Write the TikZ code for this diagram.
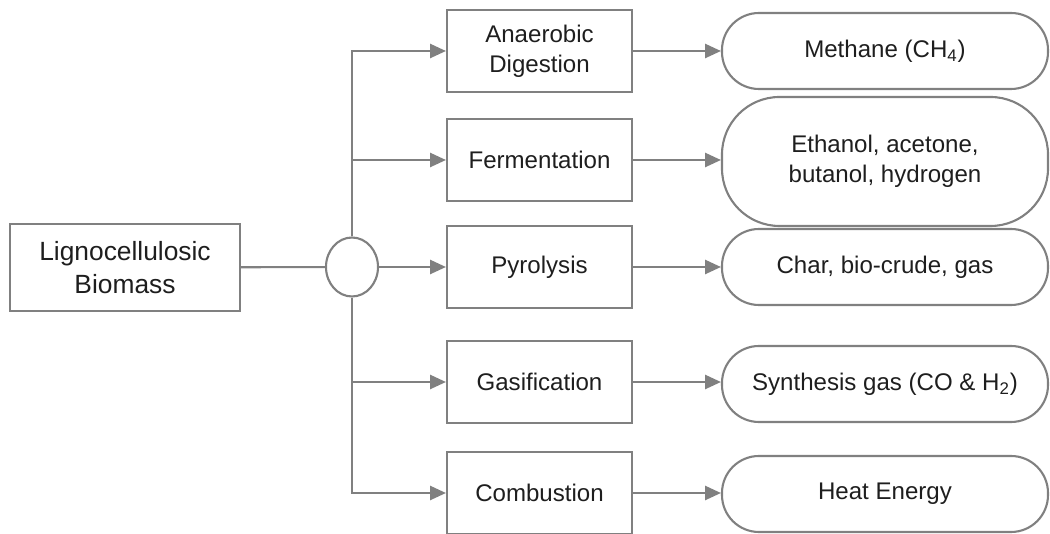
\documentclass[tikz,border=0pt]{standalone}
\usepackage{fontspec}
\setmainfont{Liberation Sans}
\usepackage{xcolor}
\usetikzlibrary{positioning}
\usetikzlibrary{shapes.geometric}
\usetikzlibrary{arrows.meta}
\definecolor{linegray}{HTML}{808080}
\definecolor{textdark}{HTML}{1E1E1E}

\begin{document}
\begin{tikzpicture}[process/.style={
			draw=linegray,
			line width=1.2pt,
			rectangle,
			minimum width=3.7cm,
			minimum height=1.64cm,
			align=center,
			text=textdark,
			font=\fontsize{13.7}{17}\selectfont,
		},
		product/.style={
			process,
			minimum width=6.52cm,
			minimum height=1.52cm,
			rounded corners=0.74cm,
		},
		feed/.style={draw=linegray, line width=1.2pt, -{Triangle[length=9pt,width=8pt]}},
		link/.style={draw=linegray, line width=1.2pt}]
		\useasboundingbox (0,0) rectangle (21,10.68);
		
		\node[process, minimum width=4.6cm, minimum height=1.74cm, font=\fontsize{15}{19}\selectfont] (biomass) at (2.5,5.33) {Lignocellulosic\\Biomass};
		\node[draw=linegray, line width=1.2pt, ellipse, fill=white, minimum width=1.04cm, minimum height=1.18cm, inner sep=0pt] (hub) at (7.04,5.34) {};
		
		\node[process] (anaer) at (10.79,9.66) {Anaerobic\\Digestion};
		\node[process] (ferm) at (10.79,7.48) {Fermentation};
		\node[process] (pyro) at (10.79,5.34) {Pyrolysis};
		\node[process] (gasif) at (10.79,3.04) {Gasification};
		\node[process] (comb) at (10.79,0.82) {Combustion};
		
		\node[product] (methane) at (17.7,9.66) {Methane (CH\textsubscript{4})};
		\node[product, minimum height=2.58cm, rounded corners=1.15cm] (ethanol) at (17.7,7.45) {Ethanol, acetone,\\butanol, hydrogen};
		\node[product] (char) at (17.7,5.34) {Char, bio-crude, gas};
		\node[product] (syngas) at (17.7,3.0) {Synthesis gas (CO \& H\textsubscript{2})};
		\node[product] (heat) at (17.7,0.8) {Heat Energy};
		
		\draw[link] (biomass) -- (hub);
		\draw[feed] (hub.north) |- (anaer.west);
		\draw[feed] (hub.south) |- (comb.west);
		\draw[feed] (hub.north |- ferm.west) -- (ferm.west);
		\draw[feed] (hub) -- (pyro);
		\draw[feed] (hub.south |- gasif.west) -- (gasif.west);
		
		\draw[feed] (anaer) -- (methane);
		\draw[feed] (ferm) -- (ferm -| ethanol.west);
		\draw[feed] (pyro) -- (char);
		\draw[feed] (gasif) -- (gasif -| syngas.west);
		\draw[feed] (comb) -- (comb -| heat.west);
	\end{tikzpicture}
\end{document}
